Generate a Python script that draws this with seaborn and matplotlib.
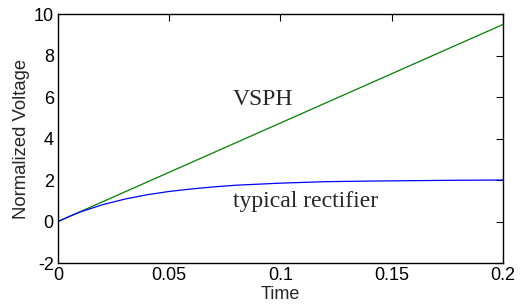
import numpy as np
import pandas as pd
import matplotlib
matplotlib.use("Agg")
import matplotlib.pyplot as plt
import seaborn as sns

# data
t_vsph = [0.0, 0.2]
v_vsph = [0.0, 9.5]

t_rect = [0.0, 0.005, 0.01, 0.02, 0.03, 0.04, 0.05, 0.06, 0.07, 0.08,
          0.1, 0.12, 0.14, 0.16, 0.18, 0.2]
v_rect = [0.0, 0.24, 0.46, 0.81, 1.08, 1.29, 1.45, 1.57, 1.67, 1.75,
          1.85, 1.92, 1.95, 1.97, 1.99, 2.0]

x_ticks = [0, 0.05, 0.1, 0.15, 0.2]
x_ticklabels = ["0", "0.05", "0.1", "0.15", "0.2"]
y_ticks = [-2, 0, 2, 4, 6, 8, 10]

sns.set_style("white")
plt.rcParams["font.family"] = ["Liberation Sans", "DejaVu Sans"]
plt.rcParams["axes.unicode_minus"] = False

fig = plt.figure(figsize=(5.32, 3.06), dpi=100)
ax = fig.add_axes([0.109, 0.1405, 0.8365, 0.8135])

df_v = pd.DataFrame({"Time": t_vsph, "V": v_vsph})
df_r = pd.DataFrame({"Time": t_rect, "V": v_rect})
sns.lineplot(data=df_v, x="Time", y="V", ax=ax, color="#008000", linewidth=0.9)
sns.lineplot(data=df_r, x="Time", y="V", ax=ax, color="#0000ff", linewidth=0.9)

ax.set_xlim(0, 0.2)
ax.set_ylim(-2, 10)
ax.set_xticks(x_ticks)
ax.set_xticklabels(x_ticklabels)
ax.set_yticks(y_ticks)
ax.tick_params(direction="in", length=5, width=0.8, top=True, right=True,
               labelsize=13, pad=3, colors="black")
for s in ax.spines.values():
    s.set_visible(True)
    s.set_color("black")
    s.set_linewidth(1.0)

ax.set_xlabel("Time", fontsize=13, labelpad=1)
ax.set_ylabel("Normalized Voltage", fontsize=13.3, labelpad=3)

ax.text(0.0787, 5.9, "VSPH", family="Liberation Serif", fontsize=17,
        va="center", ha="left")
ax.text(0.0786, 0.95, "typical rectifier", family="Liberation Serif",
        fontsize=17, va="center", ha="left")

fig.savefig("out.png", dpi=100)
